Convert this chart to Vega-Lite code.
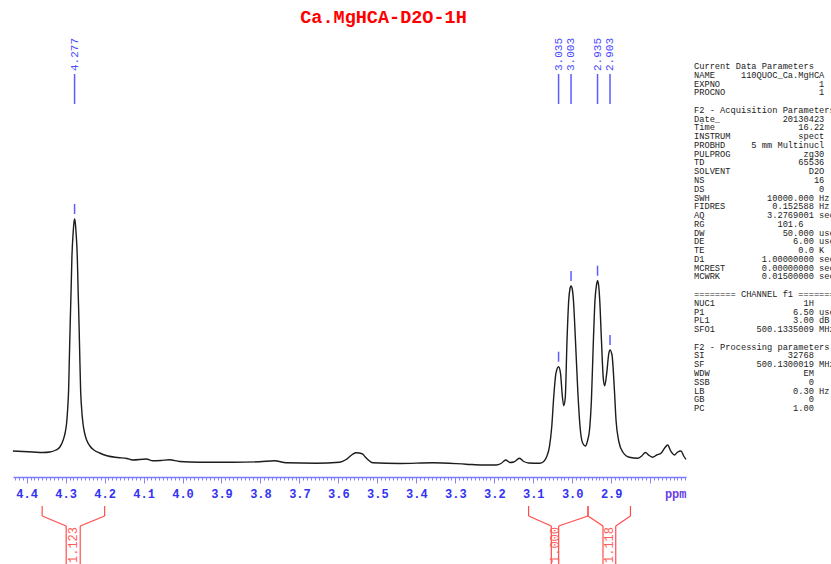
{
  "$schema": "https://vega.github.io/schema/vega-lite/v6.json",
  "background": "#ffffff",
  "padding": {"left": 10, "top": 7, "right": 0, "bottom": 0},
  "spacing": 5,
  "config": {"view": {"stroke": null}, "axisY": {"disable": true}},
  "datasets": {
    "spectrum": [
      {"ppm": 4.4352, "v": 26}, {"ppm": 4.4095, "v": 25.5}, {"ppm": 4.3839, "v": 25}, {"ppm": 4.3582, "v": 24.5},
      {"ppm": 4.3403, "v": 25}, {"ppm": 4.3249, "v": 27}, {"ppm": 4.3146, "v": 30}, {"ppm": 4.3062, "v": 37},
      {"ppm": 4.3013, "v": 44}, {"ppm": 4.2974, "v": 54}, {"ppm": 4.2946, "v": 69}, {"ppm": 4.2923, "v": 87},
      {"ppm": 4.2903, "v": 120}, {"ppm": 4.2882, "v": 154}, {"ppm": 4.2859, "v": 187}, {"ppm": 4.2838, "v": 220},
      {"ppm": 4.2805, "v": 245}, {"ppm": 4.2787, "v": 254}, {"ppm": 4.2769, "v": 258}, {"ppm": 4.2751, "v": 254},
      {"ppm": 4.2733, "v": 245}, {"ppm": 4.27, "v": 220}, {"ppm": 4.2679, "v": 187}, {"ppm": 4.2656, "v": 154},
      {"ppm": 4.2636, "v": 120}, {"ppm": 4.2615, "v": 87}, {"ppm": 4.259, "v": 69}, {"ppm": 4.2556, "v": 54},
      {"ppm": 4.2513, "v": 44}, {"ppm": 4.2461, "v": 37}, {"ppm": 4.2377, "v": 31}, {"ppm": 4.2274, "v": 27},
      {"ppm": 4.2128, "v": 24}, {"ppm": 4.1915, "v": 21}, {"ppm": 4.1659, "v": 19.5}, {"ppm": 4.1428, "v": 18.5},
      {"ppm": 4.1274, "v": 17}, {"ppm": 4.0933, "v": 18}, {"ppm": 4.0761, "v": 16.2}, {"ppm": 4.0555, "v": 16.5},
      {"ppm": 4.0332, "v": 17.2}, {"ppm": 4.0076, "v": 15.5}, {"ppm": 3.9563, "v": 14.8}, {"ppm": 3.8709, "v": 14.8},
      {"ppm": 3.8024, "v": 15.2}, {"ppm": 3.7639, "v": 16.2}, {"ppm": 3.7341, "v": 14.2}, {"ppm": 3.6572, "v": 13.8},
      {"ppm": 3.5971, "v": 14.8}, {"ppm": 3.5802, "v": 17.5}, {"ppm": 3.5707, "v": 20.5}, {"ppm": 3.563, "v": 22.8},
      {"ppm": 3.5553, "v": 24.2}, {"ppm": 3.5463, "v": 24}, {"ppm": 3.5374, "v": 22.8}, {"ppm": 3.531, "v": 20},
      {"ppm": 3.5245, "v": 17.5}, {"ppm": 3.5117, "v": 14.2}, {"ppm": 3.4432, "v": 13.5}, {"ppm": 3.3578, "v": 14.2},
      {"ppm": 3.2724, "v": 12.8}, {"ppm": 3.2296, "v": 12}, {"ppm": 3.1954, "v": 12}, {"ppm": 3.1826, "v": 13.5},
      {"ppm": 3.1706, "v": 17}, {"ppm": 3.1597, "v": 14.5}, {"ppm": 3.15, "v": 15}, {"ppm": 3.1354, "v": 18.7},
      {"ppm": 3.1244, "v": 15.5}, {"ppm": 3.1116, "v": 14}, {"ppm": 3.0841, "v": 13.7}, {"ppm": 3.0731, "v": 15.5},
      {"ppm": 3.0659, "v": 20}, {"ppm": 3.0584, "v": 30.3}, {"ppm": 3.0525, "v": 50.3}, {"ppm": 3.0474, "v": 80.3},
      {"ppm": 3.0418, "v": 103.7}, {"ppm": 3.035, "v": 110.3}, {"ppm": 3.03, "v": 103.7}, {"ppm": 3.0256, "v": 82},
      {"ppm": 3.0218, "v": 71.3}, {"ppm": 3.0179, "v": 79}, {"ppm": 3.0133, "v": 137}, {"ppm": 3.0089, "v": 177},
      {"ppm": 3.0058, "v": 188}, {"ppm": 3.003, "v": 191}, {"ppm": 2.9999, "v": 188}, {"ppm": 2.9969, "v": 177},
      {"ppm": 2.9917, "v": 137}, {"ppm": 2.9858, "v": 87}, {"ppm": 2.9799, "v": 50.3}, {"ppm": 2.973, "v": 33.7},
      {"ppm": 2.9661, "v": 31}, {"ppm": 2.9602, "v": 37}, {"ppm": 2.9556, "v": 47}, {"ppm": 2.9507, "v": 77},
      {"ppm": 2.9456, "v": 137}, {"ppm": 2.9415, "v": 177}, {"ppm": 2.9381, "v": 191}, {"ppm": 2.935, "v": 196.3},
      {"ppm": 2.932, "v": 191}, {"ppm": 2.9294, "v": 177}, {"ppm": 2.925, "v": 137}, {"ppm": 2.9199, "v": 97},
      {"ppm": 2.9166, "v": 91.3}, {"ppm": 2.9115, "v": 103.7}, {"ppm": 2.9063, "v": 123}, {"ppm": 2.903, "v": 127},
      {"ppm": 2.8979, "v": 122}, {"ppm": 2.8917, "v": 87}, {"ppm": 2.8876, "v": 57}, {"ppm": 2.8807, "v": 36},
      {"ppm": 2.8704, "v": 25}, {"ppm": 2.8532, "v": 19.7}, {"ppm": 2.8319, "v": 18.7}, {"ppm": 2.8217, "v": 21},
      {"ppm": 2.8122, "v": 24.5}, {"ppm": 2.8024, "v": 21.5}, {"ppm": 2.7935, "v": 19.7}, {"ppm": 2.7832, "v": 22},
      {"ppm": 2.7722, "v": 23.7}, {"ppm": 2.7627, "v": 29}, {"ppm": 2.755, "v": 32}, {"ppm": 2.7473, "v": 26},
      {"ppm": 2.7378, "v": 22}, {"ppm": 2.7293, "v": 25}, {"ppm": 2.7209, "v": 26}, {"ppm": 2.7139, "v": 21},
      {"ppm": 2.708, "v": 17.7}
    ],
    "peaks": [
      {"ppm": 4.277, "h": 258, "label": "4.277"},
      {"ppm": 3.035, "h": 110.3, "label": "3.035"},
      {"ppm": 3.003, "h": 191, "label": "3.003"},
      {"ppm": 2.935, "h": 196.3, "label": "2.935"},
      {"ppm": 2.903, "h": 127, "label": "2.903"}
    ],
    "integrals": [
      {"from": 4.3602, "to": 4.1998, "stemL": 4.2985, "stemR": 4.2625, "mid": 4.2805, "value": "1.123"},
      {"from": 3.1119, "to": 2.9595, "stemL": 3.0536, "stemR": 3.0348, "mid": 3.0442, "value": "1.000"},
      {"from": 2.9595, "to": 2.8505, "stemL": 2.921, "stemR": 2.8883, "mid": 2.9047, "value": "1.118"}
    ],
    "params": [
      {"n": 0, "t": "Current Data Parameters"},
      {"n": 1, "t": "NAME\u00a0\u00a0\u00a0\u00a0\u00a0110QUOC_Ca.MgHCA"},
      {"n": 2, "t": "EXPNO\u00a0\u00a0\u00a0\u00a0\u00a0\u00a0\u00a0\u00a0\u00a0\u00a0\u00a0\u00a0\u00a0\u00a0\u00a0\u00a0\u00a0\u00a0\u00a01"},
      {"n": 3, "t": "PROCNO\u00a0\u00a0\u00a0\u00a0\u00a0\u00a0\u00a0\u00a0\u00a0\u00a0\u00a0\u00a0\u00a0\u00a0\u00a0\u00a0\u00a0\u00a01"},
      {"n": 5, "t": "F2 - Acquisition Parameters"},
      {"n": 6, "t": "Date_\u00a0\u00a0\u00a0\u00a0\u00a0\u00a0\u00a0\u00a0\u00a0\u00a0\u00a0\u00a020130423"},
      {"n": 7, "t": "Time\u00a0\u00a0\u00a0\u00a0\u00a0\u00a0\u00a0\u00a0\u00a0\u00a0\u00a0\u00a0\u00a0\u00a0\u00a0\u00a016.22"},
      {"n": 8, "t": "INSTRUM\u00a0\u00a0\u00a0\u00a0\u00a0\u00a0\u00a0\u00a0\u00a0\u00a0\u00a0\u00a0\u00a0spect"},
      {"n": 9, "t": "PROBHD\u00a0\u00a0\u00a0\u00a0\u00a05 mm Multinucl"},
      {"n": 10, "t": "PULPROG\u00a0\u00a0\u00a0\u00a0\u00a0\u00a0\u00a0\u00a0\u00a0\u00a0\u00a0\u00a0\u00a0\u00a0zg30"},
      {"n": 11, "t": "TD\u00a0\u00a0\u00a0\u00a0\u00a0\u00a0\u00a0\u00a0\u00a0\u00a0\u00a0\u00a0\u00a0\u00a0\u00a0\u00a0\u00a0\u00a065536"},
      {"n": 12, "t": "SOLVENT\u00a0\u00a0\u00a0\u00a0\u00a0\u00a0\u00a0\u00a0\u00a0\u00a0\u00a0\u00a0\u00a0\u00a0\u00a0D2O"},
      {"n": 13, "t": "NS\u00a0\u00a0\u00a0\u00a0\u00a0\u00a0\u00a0\u00a0\u00a0\u00a0\u00a0\u00a0\u00a0\u00a0\u00a0\u00a0\u00a0\u00a0\u00a0\u00a0\u00a016"},
      {"n": 14, "t": "DS\u00a0\u00a0\u00a0\u00a0\u00a0\u00a0\u00a0\u00a0\u00a0\u00a0\u00a0\u00a0\u00a0\u00a0\u00a0\u00a0\u00a0\u00a0\u00a0\u00a0\u00a0\u00a00"},
      {"n": 15, "t": "SWH\u00a0\u00a0\u00a0\u00a0\u00a0\u00a0\u00a0\u00a0\u00a0\u00a0\u00a010000.000 Hz"},
      {"n": 16, "t": "FIDRES\u00a0\u00a0\u00a0\u00a0\u00a0\u00a0\u00a0\u00a0\u00a00.152588 Hz"},
      {"n": 17, "t": "AQ\u00a0\u00a0\u00a0\u00a0\u00a0\u00a0\u00a0\u00a0\u00a0\u00a0\u00a0\u00a03.2769001 sec"},
      {"n": 18, "t": "RG\u00a0\u00a0\u00a0\u00a0\u00a0\u00a0\u00a0\u00a0\u00a0\u00a0\u00a0\u00a0\u00a0\u00a0101.6"},
      {"n": 19, "t": "DW\u00a0\u00a0\u00a0\u00a0\u00a0\u00a0\u00a0\u00a0\u00a0\u00a0\u00a0\u00a0\u00a0\u00a0\u00a050.000 usec"},
      {"n": 20, "t": "DE\u00a0\u00a0\u00a0\u00a0\u00a0\u00a0\u00a0\u00a0\u00a0\u00a0\u00a0\u00a0\u00a0\u00a0\u00a0\u00a0\u00a06.00 usec"},
      {"n": 21, "t": "TE\u00a0\u00a0\u00a0\u00a0\u00a0\u00a0\u00a0\u00a0\u00a0\u00a0\u00a0\u00a0\u00a0\u00a0\u00a0\u00a0\u00a0\u00a00.0 K"},
      {"n": 22, "t": "D1\u00a0\u00a0\u00a0\u00a0\u00a0\u00a0\u00a0\u00a0\u00a0\u00a0\u00a01.00000000 sec"},
      {"n": 23, "t": "MCREST\u00a0\u00a0\u00a0\u00a0\u00a0\u00a0\u00a00.00000000 sec"},
      {"n": 24, "t": "MCWRK\u00a0\u00a0\u00a0\u00a0\u00a0\u00a0\u00a0\u00a00.01500000 sec"},
      {"n": 26, "t": "======== CHANNEL f1 ========"},
      {"n": 27, "t": "NUC1\u00a0\u00a0\u00a0\u00a0\u00a0\u00a0\u00a0\u00a0\u00a0\u00a0\u00a0\u00a0\u00a0\u00a0\u00a0\u00a0\u00a01H"},
      {"n": 28, "t": "P1\u00a0\u00a0\u00a0\u00a0\u00a0\u00a0\u00a0\u00a0\u00a0\u00a0\u00a0\u00a0\u00a0\u00a0\u00a0\u00a0\u00a06.50 usec"},
      {"n": 29, "t": "PL1\u00a0\u00a0\u00a0\u00a0\u00a0\u00a0\u00a0\u00a0\u00a0\u00a0\u00a0\u00a0\u00a0\u00a0\u00a0\u00a03.00 dB"},
      {"n": 30, "t": "SFO1\u00a0\u00a0\u00a0\u00a0\u00a0\u00a0\u00a0\u00a0500.1335009 MHz"},
      {"n": 32, "t": "F2 - Processing parameters"},
      {"n": 33, "t": "SI\u00a0\u00a0\u00a0\u00a0\u00a0\u00a0\u00a0\u00a0\u00a0\u00a0\u00a0\u00a0\u00a0\u00a0\u00a0\u00a032768"},
      {"n": 34, "t": "SF\u00a0\u00a0\u00a0\u00a0\u00a0\u00a0\u00a0\u00a0\u00a0\u00a0500.1300019 MHz"},
      {"n": 35, "t": "WDW\u00a0\u00a0\u00a0\u00a0\u00a0\u00a0\u00a0\u00a0\u00a0\u00a0\u00a0\u00a0\u00a0\u00a0\u00a0\u00a0\u00a0\u00a0EM"},
      {"n": 36, "t": "SSB\u00a0\u00a0\u00a0\u00a0\u00a0\u00a0\u00a0\u00a0\u00a0\u00a0\u00a0\u00a0\u00a0\u00a0\u00a0\u00a0\u00a0\u00a0\u00a00"},
      {"n": 37, "t": "LB\u00a0\u00a0\u00a0\u00a0\u00a0\u00a0\u00a0\u00a0\u00a0\u00a0\u00a0\u00a0\u00a0\u00a0\u00a0\u00a0\u00a00.30 Hz"},
      {"n": 38, "t": "GB\u00a0\u00a0\u00a0\u00a0\u00a0\u00a0\u00a0\u00a0\u00a0\u00a0\u00a0\u00a0\u00a0\u00a0\u00a0\u00a0\u00a0\u00a0\u00a0\u00a00"},
      {"n": 39, "t": "PC\u00a0\u00a0\u00a0\u00a0\u00a0\u00a0\u00a0\u00a0\u00a0\u00a0\u00a0\u00a0\u00a0\u00a0\u00a0\u00a0\u00a01.00"}
    ]
  },
  "hconcat": [
    {
      "width": 673,
      "height": 534,
      "title": {"text": "Ca.MgHCA-D2O-1H", "color": "#ff0000", "font": "Liberation Mono", "fontSize": 18.5, "fontWeight": "bold", "anchor": "middle", "dx": 34, "offset": -11, "baseline": "alphabetic"},
      "layer": [
        {
          "data": {"name": "spectrum"},
          "mark": {"type": "line", "color": "#1c1c1c", "strokeWidth": 1.4, "interpolate": "monotone"},
          "encoding": {
            "x": {
              "field": "ppm", "type": "quantitative",
              "scale": {"domain": [2.708, 4.435], "reverse": true, "nice": false, "zero": false},
              "axis": {
                "title": "ppm", "titleFont": "Liberation Mono", "titleFontSize": 12, "titleFontWeight": "bold", "titleColor": "#6b3fe6",
                "titleX": 673, "titleY": 20, "titleAlign": "right", "titleBaseline": "alphabetic", "titleAngle": 0,
                "offset": -87, "tickCount": 170,
                "tickSize": {"condition": {"test": "abs(datum.value*10 - round(datum.value*10)) < 0.001", "value": 6}, "value": 3},
                "tickColor": "#8484ff", "tickWidth": 1,
                "domainColor": "#7b7bff", "domainWidth": 1.6,
                "labelExpr": "abs(datum.value*10 - round(datum.value*10)) < 0.001 && datum.value > 2.85 ? format(datum.value, '.1f') : ''",
                "labelOverlap": false, "labelFlush": false, "labelBound": false,
                "labelFont": "Liberation Mono", "labelFontSize": 12, "labelFontWeight": "bold", "labelColor": "#3333f2",
                "labelBaseline": "alphabetic", "labelPadding": 14, "grid": false
              }
            },
            "y": {"field": "v", "type": "quantitative", "scale": {"domain": [-87, 447], "nice": false, "zero": false}, "axis": null}
          }
        },
        {
          "data": {"name": "peaks"},
          "mark": {"type": "rule", "color": "#5c5cff", "strokeWidth": 1.5, "yOffset": -5, "y2Offset": -15},
          "encoding": {
            "x": {"field": "ppm", "type": "quantitative"},
            "y": {"field": "h", "type": "quantitative", "axis": null},
            "y2": {"field": "h"}
          }
        },
        {
          "data": {"name": "peaks"},
          "mark": {"type": "rule", "color": "#5c5cff", "strokeWidth": 1.5},
          "encoding": {
            "x": {"field": "ppm", "type": "quantitative"},
            "y": {"datum": 373, "axis": null},
            "y2": {"datum": 403}
          }
        },
        {
          "data": {"name": "peaks"},
          "mark": {"type": "text", "angle": 270, "align": "left", "baseline": "middle", "fontSize": 11, "font": "Liberation Mono", "color": "#4a4aff"},
          "encoding": {
            "x": {"field": "ppm", "type": "quantitative"},
            "y": {"datum": 406, "axis": null},
            "text": {"field": "label"}
          }
        },
        {
          "data": {"name": "integrals"},
          "mark": {"type": "rule", "color": "#ff4d4d", "strokeWidth": 1.2},
          "encoding": {"x": {"field": "from", "type": "quantitative"}, "y": {"datum": -29, "axis": null}, "y2": {"datum": -39}}
        },
        {
          "data": {"name": "integrals"},
          "mark": {"type": "rule", "color": "#ff4d4d", "strokeWidth": 1.2},
          "encoding": {"x": {"field": "to", "type": "quantitative"}, "y": {"datum": -29, "axis": null}, "y2": {"datum": -39}}
        },
        {
          "data": {"name": "integrals"},
          "mark": {"type": "rule", "color": "#ff4d4d", "strokeWidth": 1.2},
          "encoding": {"x": {"field": "from", "type": "quantitative"}, "x2": {"field": "stemL"}, "y": {"datum": -39, "axis": null}, "y2": {"datum": -49}}
        },
        {
          "data": {"name": "integrals"},
          "mark": {"type": "rule", "color": "#ff4d4d", "strokeWidth": 1.2},
          "encoding": {"x": {"field": "to", "type": "quantitative"}, "x2": {"field": "stemR"}, "y": {"datum": -39, "axis": null}, "y2": {"datum": -49}}
        },
        {
          "data": {"name": "integrals"},
          "mark": {"type": "rule", "color": "#ff4d4d", "strokeWidth": 1.2},
          "encoding": {"x": {"field": "stemL", "type": "quantitative"}, "y": {"datum": -49, "axis": null}, "y2": {"datum": -87}}
        },
        {
          "data": {"name": "integrals"},
          "mark": {"type": "rule", "color": "#ff4d4d", "strokeWidth": 1.2},
          "encoding": {"x": {"field": "stemR", "type": "quantitative"}, "y": {"datum": -49, "axis": null}, "y2": {"datum": -87}}
        },
        {
          "data": {"name": "integrals"},
          "mark": {"type": "text", "angle": 270, "align": "right", "baseline": "middle", "fontSize": 12, "font": "Liberation Mono", "color": "#ff5c5c", "clip": true},
          "encoding": {
            "x": {"field": "mid", "type": "quantitative"},
            "y": {"datum": -50, "axis": null},
            "text": {"field": "value"}
          }
        }
      ]
    },
    {
      "width": 137,
      "height": 534,
      "data": {"name": "params"},
      "mark": {"type": "text", "align": "left", "baseline": "middle", "font": "Liberation Mono", "fontSize": 8.7, "color": "#222222", "clip": true},
      "encoding": {
        "x": {"value": 0},
        "y": {"field": "n", "type": "quantitative", "scale": {"domain": [-4.105, 56.78], "reverse": true, "nice": false, "zero": false}, "axis": null},
        "text": {"field": "t"}
      }
    }
  ]
}
